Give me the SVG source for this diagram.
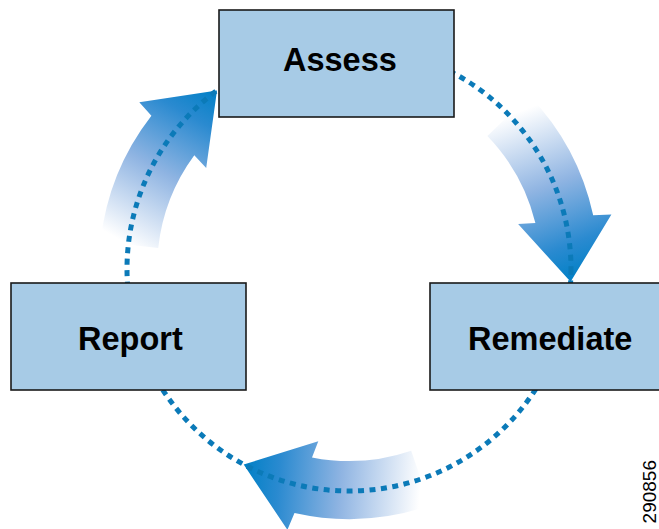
<svg xmlns="http://www.w3.org/2000/svg" width="659" height="529" viewBox="0 0 659 529">
<style>
.box{fill:#a7cbe6;stroke:#1a1a1a;stroke-width:1.6}
.lbl{font-family:"Liberation Sans",Arial,sans-serif;font-weight:bold;font-size:32.5px;fill:#000}
.dots{fill:none;stroke:#0b7ab8;stroke-width:5;stroke-dasharray:6 5.5}
.code{font-family:"Liberation Sans",Arial,sans-serif;font-size:19px;fill:#000}
</style>
<defs>
<linearGradient id="gTR" gradientUnits="userSpaceOnUse" x1="508" y1="116" x2="571" y2="282">
<stop offset="0" stop-color="#ffffff"/>
<stop offset="0.45" stop-color="#8fb4e2"/>
<stop offset="0.8" stop-color="#2a8ad0"/>
<stop offset="1" stop-color="#0080c6"/>
</linearGradient>
<linearGradient id="gL" gradientUnits="userSpaceOnUse" x1="129" y1="245" x2="217" y2="90">
<stop offset="0" stop-color="#ffffff"/>
<stop offset="0.45" stop-color="#8fb4e2"/>
<stop offset="0.8" stop-color="#2a8ad0"/>
<stop offset="1" stop-color="#0080c6"/>
</linearGradient>
<linearGradient id="gB" gradientUnits="userSpaceOnUse" x1="421" y1="478" x2="244" y2="465">
<stop offset="0" stop-color="#ffffff"/>
<stop offset="0.45" stop-color="#8fb4e2"/>
<stop offset="0.8" stop-color="#2a8ad0"/>
<stop offset="1" stop-color="#0080c6"/>
</linearGradient>
</defs>
<rect width="659" height="529" fill="#ffffff"/>
<g id="connectors">
<path id="arrow-assess-remediate" fill="url(#gTR)" d="M529.2,95.6 A250,250 0 0 1 593.2,215.3 L611.4,214.6 L570.6,281.8 L518.1,224.0 L535.4,222.9 A192,192 0 0 0 487.4,135.9 Z"/>
<path id="arrow-report-assess" fill="url(#gL)" d="M100.5,241.6 A250,250 0 0 1 151.4,115.8 L139.3,102.2 L217.0,90.5 L206.2,167.9 L194.3,155.3 A192,192 0 0 0 158.2,247.9 Z"/>
<path id="arrow-remediate-report" fill="url(#gB)" d="M430.0,505.5 A250,250 0 0 1 294.5,513.0 L287.4,529.8 L243.7,464.5 L318.3,441.3 L312.0,457.4 A192,192 0 0 0 411.2,450.7 Z"/>
<circle class="dots" cx="349" cy="269" r="222"/>
</g>
<g id="assess">
<rect class="box" x="219" y="10" width="235" height="107"/>
<text class="lbl" x="283" y="71">Assess</text>
</g>
<g id="report">
<rect class="box" x="11" y="283" width="235" height="107"/>
<text class="lbl" x="78" y="350">Report</text>
</g>
<g id="remediate">
<rect class="box" x="430" y="283" width="240" height="107"/>
<text class="lbl" x="468" y="350">Remediate</text>
</g>
<text class="code" transform="translate(656,460) rotate(-90)" text-anchor="end">290856</text>
</svg>
